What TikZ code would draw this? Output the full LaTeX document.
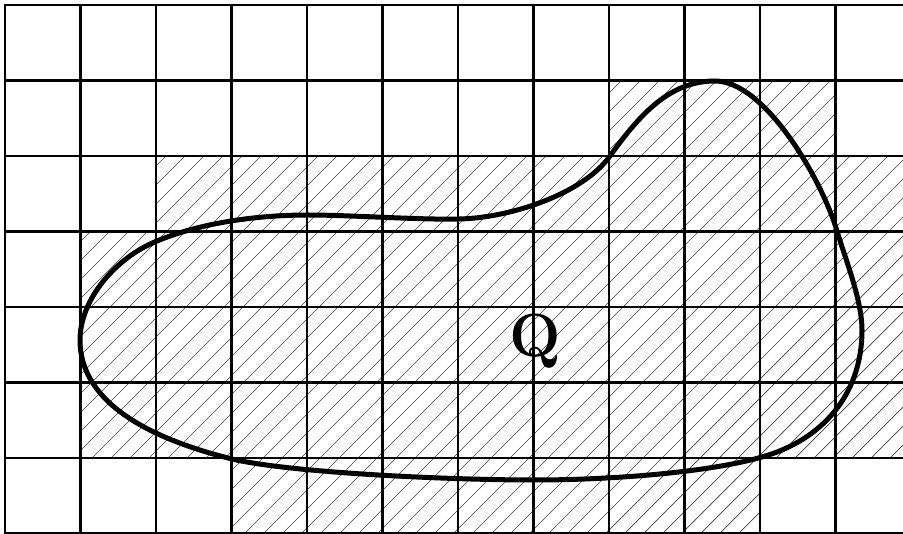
\documentclass[tikz,border=0pt]{standalone}
\begin{document}
\begin{tikzpicture}[x=1pt,y=-1pt,
  hatch/.style={line width=0.7pt,black!75},
  gridline/.style={line width=2.6pt,black,line cap=rect},
  outline/.style={line width=5pt,black,line join=round},
  label/.style={font=\fontsize{61}{61}\selectfont\bfseries,inner sep=0pt}]
\useasboundingbox[fill=white] (0,0) rectangle (903,534);
\begin{scope}
  \clip (609,80.5) rectangle (835.5,156)
        (156,156) rectangle (911,231.5)
        (80.5,231.5) rectangle (911,458)
        (231.5,458) rectangle (760,533.5);
  \foreach \t in {-560,-541,...,920} \draw[hatch] (\t,540) -- (\t+540,0);
\end{scope}
\foreach \i in {0,...,12} \draw[gridline] (5+75.5*\i,5) -- (5+75.5*\i,533.5);
\foreach \j in {0,...,7} \draw[gridline] (5,5+75.5*\j) -- (911,5+75.5*\j);
\draw[outline] (80,340)
  .. controls (80,300) and (115,258) .. (157,241)
  .. controls (203,222) and (260,215) .. (308,215)
  .. controls (350,215) and (420,220) .. (459,219)
  .. controls (510,218) and (583,194) .. (610,156)
  .. controls (640,114) and (670,81) .. (715,81)
  .. controls (765,81) and (822,180) .. (837,231)
  .. controls (845,258) and (862,300) .. (862,330)
  .. controls (862,395) and (822,440) .. (762,457)
  .. controls (702,474) and (600,480) .. (535,480)
  .. controls (450,480) and (292,473) .. (232,459)
  .. controls (155,440) and (80,405) .. cycle;
\node[label,anchor=base] (q) at (535,357) {Q};
\end{tikzpicture}
\end{document}
